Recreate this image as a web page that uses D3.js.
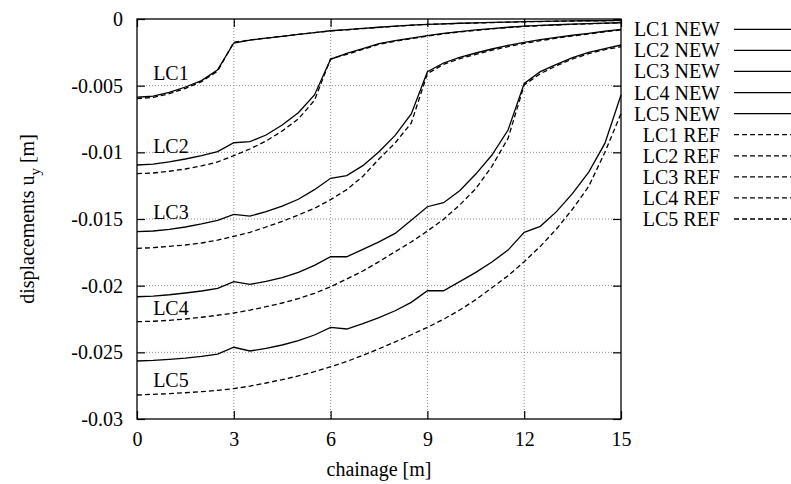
<!DOCTYPE html>
<html>
<head>
<meta charset="utf-8">
<script src="https://cdn.jsdelivr.net/npm/d3@7"></script>
<style>
  body { margin: 0; background: #fff; }
  svg text { font-family: "Liberation Serif", "Times New Roman", serif !important; fill: #000; }
</style>
</head>
<body>
<script>
// chainage [m]
var chainage = [0, 0.5, 1, 1.5, 2, 2.5, 3, 3.5, 4, 4.5, 5, 5.5, 6, 6.5, 7, 7.5,
  8, 8.5, 9, 9.5, 10, 10.5, 11, 11.5, 12, 12.5, 13, 13.5, 14, 14.5, 15];

// displacements u_y [m], new model
var lc1New = [-0.00587,-0.00578,-0.0055,-0.0051,-0.00462,-0.0038,-0.0018,-0.00158,-0.00144,-0.0013,-0.00116,-0.00102,-0.00088,-0.0008,-0.00071,-0.00062,-0.00054,-0.00046,-0.0004,-0.00036,-0.00032,-0.00029,-0.00026,-0.00023,-0.0002,-0.00018,-0.00016,-0.00014,-0.00013,-0.00012,-0.00011];
var lc2New = [-0.01095,-0.01088,-0.01072,-0.0105,-0.01025,-0.00995,-0.00928,-0.0092,-0.0087,-0.00795,-0.00703,-0.0057,-0.00302,-0.00258,-0.00222,-0.00185,-0.00163,-0.00143,-0.00125,-0.00108,-0.00094,-0.00082,-0.00072,-0.00062,-0.00054,-0.00048,-0.00043,-0.00039,-0.00035,-0.00031,-0.00028];
var lc3New = [-0.01595,-0.0159,-0.01578,-0.0156,-0.01537,-0.0151,-0.01465,-0.01478,-0.01445,-0.01403,-0.01352,-0.0128,-0.01195,-0.01175,-0.011,-0.00995,-0.00873,-0.00712,-0.00395,-0.0033,-0.00288,-0.00255,-0.00225,-0.00198,-0.00175,-0.00155,-0.00138,-0.00122,-0.00108,-0.00092,-0.00078];
var lc4New = [-0.02083,-0.02078,-0.02068,-0.02055,-0.0204,-0.0202,-0.0197,-0.0199,-0.01968,-0.0194,-0.019,-0.01848,-0.01783,-0.01783,-0.01728,-0.01672,-0.01608,-0.0151,-0.01408,-0.01378,-0.01288,-0.01163,-0.0102,-0.00833,-0.00483,-0.00395,-0.0034,-0.0029,-0.0025,-0.00222,-0.00195];
var lc5New = [-0.02565,-0.02561,-0.02553,-0.02543,-0.0253,-0.02513,-0.02462,-0.0249,-0.0247,-0.02445,-0.02413,-0.0237,-0.02313,-0.02325,-0.02285,-0.0224,-0.02188,-0.02125,-0.02038,-0.02038,-0.0197,-0.019,-0.01822,-0.01733,-0.016,-0.01555,-0.01445,-0.01308,-0.01148,-0.00933,-0.0057];

// displacements u_y [m], reference
var lc1Ref = [-0.00597,-0.00588,-0.0056,-0.0052,-0.0047,-0.0039,-0.00175,-0.00157,-0.00143,-0.0013,-0.00116,-0.00102,-0.00089,-0.00081,-0.00072,-0.00063,-0.00055,-0.00047,-0.00041,-0.00037,-0.00033,-0.0003,-0.00027,-0.00024,-0.00021,-0.00019,-0.00017,-0.00015,-0.00014,-0.00013,-0.00012];
var lc2Ref = [-0.0116,-0.01155,-0.01142,-0.01125,-0.01102,-0.01072,-0.01025,-0.00975,-0.00915,-0.0084,-0.0075,-0.0061,-0.00298,-0.00265,-0.00228,-0.0019,-0.00167,-0.00147,-0.00128,-0.00111,-0.00097,-0.00085,-0.00074,-0.00064,-0.00056,-0.0005,-0.00045,-0.0004,-0.00036,-0.00032,-0.00029];
var lc3Ref = [-0.0172,-0.01715,-0.01705,-0.01695,-0.0168,-0.01658,-0.0163,-0.016,-0.0156,-0.01518,-0.0147,-0.0142,-0.01355,-0.0128,-0.0118,-0.0105,-0.0093,-0.0078,-0.0041,-0.0034,-0.00298,-0.00265,-0.00234,-0.00207,-0.00183,-0.00162,-0.00144,-0.00127,-0.00112,-0.00096,-0.00082];
var lc4Ref = [-0.0227,-0.02267,-0.0226,-0.0225,-0.02237,-0.02222,-0.02205,-0.02183,-0.02158,-0.0213,-0.02097,-0.02058,-0.02008,-0.0195,-0.0189,-0.0182,-0.01745,-0.01672,-0.0159,-0.01503,-0.01395,-0.01272,-0.01105,-0.00895,-0.00495,-0.0041,-0.0035,-0.003,-0.0026,-0.0023,-0.00208];
var lc5Ref = [-0.0282,-0.02815,-0.0281,-0.02803,-0.02795,-0.02785,-0.02772,-0.02753,-0.0273,-0.02705,-0.02677,-0.02645,-0.02608,-0.02568,-0.02523,-0.02473,-0.02422,-0.02368,-0.02313,-0.02252,-0.02183,-0.02105,-0.02015,-0.01925,-0.0182,-0.01705,-0.01575,-0.01425,-0.01255,-0.01,-0.0071];

var xTicks = [0, 3, 6, 9, 12, 15];
var yTicks = [0, -0.005, -0.01, -0.015, -0.02, -0.025, -0.03];
var yTickLabels = ["0", "-0.005", "-0.01", "-0.015", "-0.02", "-0.025", "-0.03"];

var seriesNames = ["LC1 NEW", "LC2 NEW", "LC3 NEW", "LC4 NEW", "LC5 NEW",
  "LC1 REF", "LC2 REF", "LC3 REF", "LC4 REF", "LC5 REF"];
var seriesValues = [lc1New, lc2New, lc3New, lc4New, lc5New,
  lc1Ref, lc2Ref, lc3Ref, lc4Ref, lc5Ref];

// in-plot labels (chainage, u_y)
var lcLabels = ["LC1", "LC2", "LC3", "LC4", "LC5"];
var lcLabelY = [-0.00458, -0.01005, -0.015, -0.0222, -0.0276];

var serif = "Liberation Serif, Times New Roman, serif";
var svgWidth = 791, svgHeight = 484;
var margin = { top: 19, right: 170, bottom: 65, left: 137 };
var width = svgWidth - margin.left - margin.right;   // 484
var height = svgHeight - margin.top - margin.bottom; // 400

var svg = d3.select("body").append("svg")
  .attr("width", svgWidth)
  .attr("height", svgHeight)
  .attr("font-family", serif);

var g = svg.append("g")
  .attr("transform", "translate(" + margin.left + "," + margin.top + ")");

var x = d3.scaleLinear().domain([0, 15]).range([0, width]);
var y = d3.scaleLinear().domain([-0.03, 0]).range([height, 0]);

// grid
g.selectAll(".gx").data(xTicks.slice(1, -1)).enter().append("line")
  .attr("x1", d => x(d)).attr("x2", d => x(d))
  .attr("y1", 0).attr("y2", height)
  .attr("stroke", "#8a8a8a").attr("stroke-width", 1)
  .attr("stroke-dasharray", "1,2");
g.selectAll(".gy").data(yTicks.slice(1, -1)).enter().append("line")
  .attr("x1", 0).attr("x2", width)
  .attr("y1", d => y(d)).attr("y2", d => y(d))
  .attr("stroke", "#8a8a8a").attr("stroke-width", 1)
  .attr("stroke-dasharray", "1,2");

// axes (ticks pointing inward on all sides)
var tickLen = 8;
var xAxisB = g.append("g").attr("transform", "translate(0," + height + ")")
  .call(d3.axisBottom(x).tickValues(xTicks).tickSizeInner(-tickLen).tickSizeOuter(0).tickPadding(13));
var xAxisT = g.append("g")
  .call(d3.axisTop(x).tickValues(xTicks).tickSizeInner(-tickLen).tickSizeOuter(0).tickFormat(""));
var yAxisL = g.append("g")
  .call(d3.axisLeft(y).tickValues(yTicks).tickSizeInner(-tickLen).tickSizeOuter(0)
    .tickPadding(14).tickFormat((d, i) => yTickLabels[i]));
var yAxisR = g.append("g").attr("transform", "translate(" + width + ",0)")
  .call(d3.axisRight(y).tickValues(yTicks).tickSizeInner(-tickLen).tickSizeOuter(0).tickFormat(""));

[xAxisB, xAxisT, yAxisL, yAxisR].forEach(function(a) {
  a.attr("font-family", serif).attr("font-size", 20);
  a.select(".domain").remove();
  a.selectAll("line").attr("stroke", "#000").attr("stroke-width", 1.2);
});

// frame
g.append("rect")
  .attr("x", 0).attr("y", 0).attr("width", width).attr("height", height)
  .attr("fill", "none").attr("stroke", "#000").attr("stroke-width", 1.3);

// curves
var line = d3.line()
  .x((d, i) => x(chainage[i]))
  .y(d => y(d));

g.selectAll(".curve").data(seriesValues).enter().append("path")
  .attr("class", "curve")
  .attr("d", d => line(d))
  .attr("fill", "none")
  .attr("stroke", "#000")
  .attr("stroke-width", 1.3)
  .attr("stroke-dasharray", (d, i) => i >= 5 ? "5,3" : null);

// LC labels inside the plot
g.selectAll(".lcl").data(lcLabels).enter().append("text")
  .attr("x", x(0.5))
  .attr("y", (d, i) => y(lcLabelY[i]))
  .attr("font-size", 20)
  .text(d => d);

// legend
var legY0 = 29.3, legStep = 21.08;
var leg = svg.append("g");
leg.selectAll(".lt").data(seriesNames).enter().append("text")
  .attr("x", 720)
  .attr("y", (d, i) => legY0 + i * legStep)
  .attr("dy", "0.35em")
  .attr("text-anchor", "end")
  .attr("font-size", 20)
  .text(d => d);
leg.selectAll(".ll").data(seriesNames).enter().append("line")
  .attr("x1", 734).attr("x2", 800)
  .attr("y1", (d, i) => legY0 + i * legStep)
  .attr("y2", (d, i) => legY0 + i * legStep)
  .attr("stroke", "#000").attr("stroke-width", 1.3)
  .attr("stroke-dasharray", (d, i) => i >= 5 ? "5,3" : null);

// axis titles
svg.append("text")
  .attr("x", margin.left + width / 2)
  .attr("y", 476)
  .attr("text-anchor", "middle")
  .attr("font-size", 20)
  .text("chainage [m]");

var yt = svg.append("text")
  .attr("transform", "translate(34," + (margin.top + height / 2) + ") rotate(-90)")
  .attr("text-anchor", "middle")
  .attr("font-size", 20);
yt.append("tspan").text("displacements u");
yt.append("tspan").attr("dy", 6).attr("font-size", 15).text("y");
yt.append("tspan").attr("dy", -6).text(" [m]");
</script>
</body>
</html>
